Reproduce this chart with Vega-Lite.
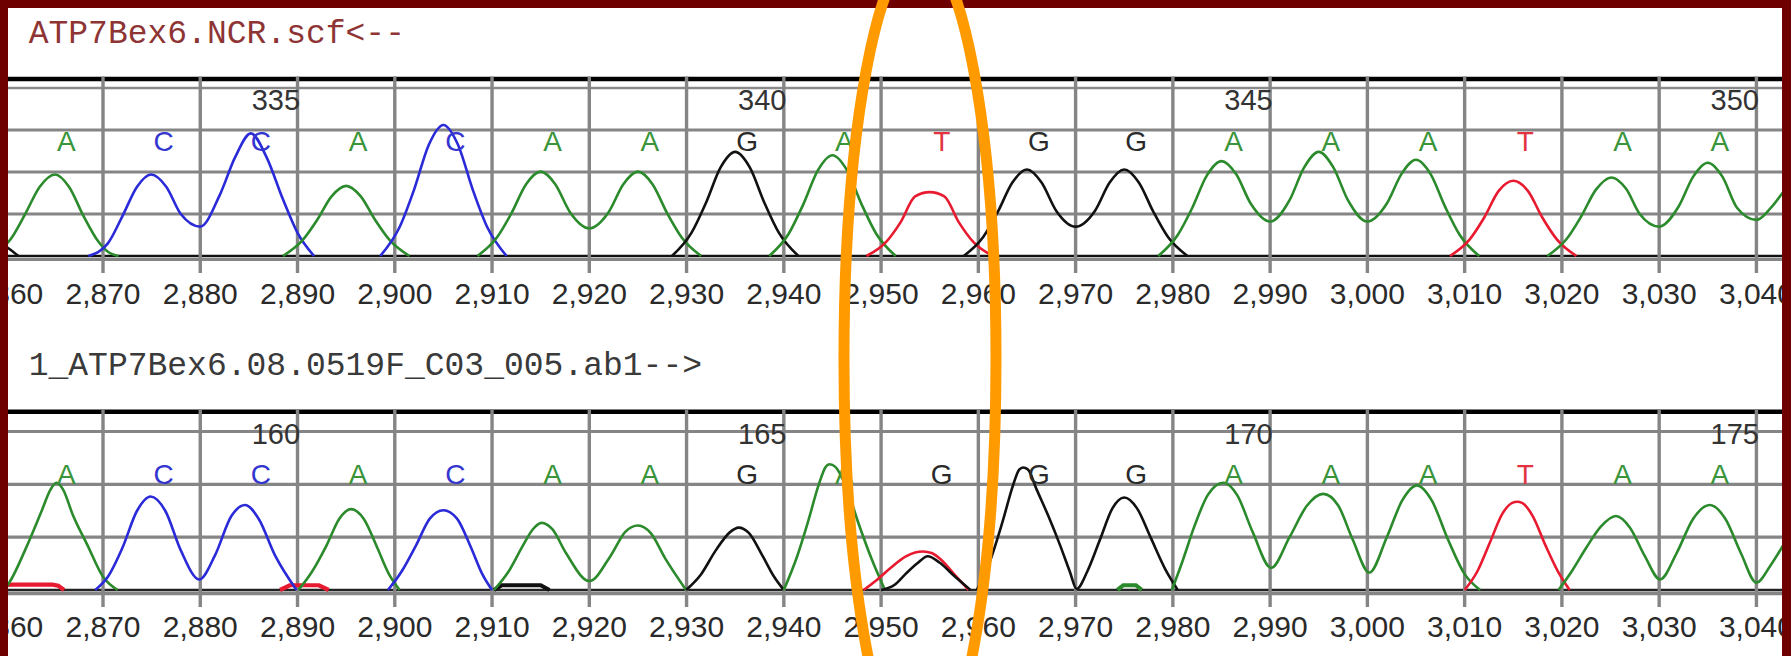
{
  "$schema": "https://vega.github.io/schema/vega-lite/v6.json",
  "width": 1774,
  "height": 648,
  "padding": {"left": 8, "top": 8, "right": 9, "bottom": 0},
  "autosize": {"type": "none"},
  "background": "#6f0000",
  "config": {"view": {"fill": "white", "stroke": null}},
  "datasets": {
    "grid": [{"v": 100}, {"v": 200}, {"v": 300}],
    "ticks": [{"x": 2860}, {"x": 2870}, {"x": 2880}, {"x": 2890}, {"x": 2900}, {"x": 2910}, {"x": 2920}, {"x": 2930}, {"x": 2940}, {"x": 2950}, {"x": 2960}, {"x": 2970}, {"x": 2980}, {"x": 2990}, {"x": 3000}, {"x": 3010}, {"x": 3020}, {"x": 3030}, {"x": 3040}],
    "b1": [{"x": 2865, "b": "A"}, {"x": 2875, "b": "C"}, {"x": 2885, "b": "C"}, {"x": 2895, "b": "A"}, {"x": 2905, "b": "C"}, {"x": 2915, "b": "A"}, {"x": 2925, "b": "A"}, {"x": 2935, "b": "G"}, {"x": 2945, "b": "A"}, {"x": 2955, "b": "T"}, {"x": 2965, "b": "G"}, {"x": 2975, "b": "G"}, {"x": 2985, "b": "A"}, {"x": 2995, "b": "A"}, {"x": 3005, "b": "A"}, {"x": 3015, "b": "T"}, {"x": 3025, "b": "A"}, {"x": 3035, "b": "A"}],
    "b2": [{"x": 2865, "b": "A"}, {"x": 2875, "b": "C"}, {"x": 2885, "b": "C"}, {"x": 2895, "b": "A"}, {"x": 2905, "b": "C"}, {"x": 2915, "b": "A"}, {"x": 2925, "b": "A"}, {"x": 2935, "b": "G"}, {"x": 2945, "b": "A"}, {"x": 2955, "b": "G"}, {"x": 2965, "b": "G"}, {"x": 2975, "b": "G"}, {"x": 2985, "b": "A"}, {"x": 2995, "b": "A"}, {"x": 3005, "b": "A"}, {"x": 3015, "b": "T"}, {"x": 3025, "b": "A"}, {"x": 3035, "b": "A"}],
    "n1": [{"x": 2885, "n": "335"}, {"x": 2935, "n": "340"}, {"x": 2985, "n": "345"}, {"x": 3035, "n": "350"}],
    "n2": [{"x": 2885, "n": "160"}, {"x": 2935, "n": "165"}, {"x": 2985, "n": "170"}, {"x": 3035, "n": "175"}],
    "tr1": [
      {"s": 1, "c": "G", "x": 2858.5, "v": 45}, {"s": 1, "c": "G", "x": 2859.5, "v": 30}, {"s": 1, "c": "G", "x": 2860.3, "v": 18}, {"s": 1, "c": "G", "x": 2861.3, "v": 0},
      {"s": 2, "c": "A", "x": 2859, "v": 8}, {"s": 2, "c": "A", "x": 2860.5, "v": 40}, {"s": 2, "c": "A", "x": 2862, "v": 100}, {"s": 2, "c": "A", "x": 2863.5, "v": 165}, {"s": 2, "c": "A", "x": 2865.07, "v": 194}, {"s": 2, "c": "A", "x": 2866.5, "v": 165}, {"s": 2, "c": "A", "x": 2868, "v": 95}, {"s": 2, "c": "A", "x": 2869.5, "v": 35}, {"s": 2, "c": "A", "x": 2870.5, "v": 10}, {"s": 2, "c": "A", "x": 2871.6, "v": 0},
      {"s": 3, "c": "C", "x": 2868.5, "v": 0}, {"s": 3, "c": "C", "x": 2870.5, "v": 30}, {"s": 3, "c": "C", "x": 2872, "v": 95}, {"s": 3, "c": "C", "x": 2873.5, "v": 165}, {"s": 3, "c": "C", "x": 2874.95, "v": 194}, {"s": 3, "c": "C", "x": 2876.5, "v": 165}, {"s": 3, "c": "C", "x": 2878, "v": 100}, {"s": 3, "c": "C", "x": 2880, "v": 70}, {"s": 3, "c": "C", "x": 2882, "v": 145}, {"s": 3, "c": "C", "x": 2883.6, "v": 236}, {"s": 3, "c": "C", "x": 2885.2, "v": 292}, {"s": 3, "c": "C", "x": 2886.8, "v": 236}, {"s": 3, "c": "C", "x": 2888.5, "v": 135}, {"s": 3, "c": "C", "x": 2890, "v": 55}, {"s": 3, "c": "C", "x": 2891.7, "v": 0},
      {"s": 4, "c": "A", "x": 2888.5, "v": 0}, {"s": 4, "c": "A", "x": 2890.5, "v": 37}, {"s": 4, "c": "A", "x": 2892, "v": 85}, {"s": 4, "c": "A", "x": 2893.5, "v": 142}, {"s": 4, "c": "A", "x": 2895, "v": 167}, {"s": 4, "c": "A", "x": 2896.5, "v": 142}, {"s": 4, "c": "A", "x": 2898, "v": 85}, {"s": 4, "c": "A", "x": 2899.5, "v": 37}, {"s": 4, "c": "A", "x": 2901.5, "v": 0},
      {"s": 5, "c": "C", "x": 2898.5, "v": 0}, {"s": 5, "c": "C", "x": 2900.5, "v": 69}, {"s": 5, "c": "C", "x": 2902, "v": 159}, {"s": 5, "c": "C", "x": 2903.5, "v": 265}, {"s": 5, "c": "C", "x": 2905, "v": 312}, {"s": 5, "c": "C", "x": 2906.5, "v": 265}, {"s": 5, "c": "C", "x": 2908, "v": 159}, {"s": 5, "c": "C", "x": 2909.5, "v": 69}, {"s": 5, "c": "C", "x": 2911.5, "v": 0},
      {"s": 6, "c": "A", "x": 2908.5, "v": 0}, {"s": 6, "c": "A", "x": 2910.5, "v": 44}, {"s": 6, "c": "A", "x": 2912, "v": 102}, {"s": 6, "c": "A", "x": 2913.5, "v": 171}, {"s": 6, "c": "A", "x": 2915, "v": 201}, {"s": 6, "c": "A", "x": 2916.5, "v": 171}, {"s": 6, "c": "A", "x": 2918, "v": 105}, {"s": 6, "c": "A", "x": 2920, "v": 66}, {"s": 6, "c": "A", "x": 2922, "v": 105}, {"s": 6, "c": "A", "x": 2923.5, "v": 171}, {"s": 6, "c": "A", "x": 2925, "v": 201}, {"s": 6, "c": "A", "x": 2926.5, "v": 171}, {"s": 6, "c": "A", "x": 2928, "v": 102}, {"s": 6, "c": "A", "x": 2929.5, "v": 44}, {"s": 6, "c": "A", "x": 2931.5, "v": 0},
      {"s": 7, "c": "G", "x": 2928.5, "v": 0}, {"s": 7, "c": "G", "x": 2930.5, "v": 55}, {"s": 7, "c": "G", "x": 2932, "v": 127}, {"s": 7, "c": "G", "x": 2933.5, "v": 211}, {"s": 7, "c": "G", "x": 2935, "v": 248}, {"s": 7, "c": "G", "x": 2936.5, "v": 211}, {"s": 7, "c": "G", "x": 2938, "v": 127}, {"s": 7, "c": "G", "x": 2939.5, "v": 55}, {"s": 7, "c": "G", "x": 2941.5, "v": 0},
      {"s": 8, "c": "A", "x": 2938.5, "v": 0}, {"s": 8, "c": "A", "x": 2940.5, "v": 53}, {"s": 8, "c": "A", "x": 2942, "v": 123}, {"s": 8, "c": "A", "x": 2943.5, "v": 204}, {"s": 8, "c": "A", "x": 2945, "v": 240}, {"s": 8, "c": "A", "x": 2946.5, "v": 204}, {"s": 8, "c": "A", "x": 2948, "v": 123}, {"s": 8, "c": "A", "x": 2949.5, "v": 53}, {"s": 8, "c": "A", "x": 2951.5, "v": 0},
      {"s": 9, "c": "T", "x": 2948.5, "v": 0}, {"s": 9, "c": "T", "x": 2950.5, "v": 33}, {"s": 9, "c": "T", "x": 2952, "v": 80}, {"s": 9, "c": "T", "x": 2953.5, "v": 142}, {"s": 9, "c": "T", "x": 2955, "v": 152}, {"s": 9, "c": "T", "x": 2956.5, "v": 142}, {"s": 9, "c": "T", "x": 2958, "v": 80}, {"s": 9, "c": "T", "x": 2959.5, "v": 33}, {"s": 9, "c": "T", "x": 2961.5, "v": 0},
      {"s": 10, "c": "G", "x": 2958.5, "v": 0}, {"s": 10, "c": "G", "x": 2960.5, "v": 45}, {"s": 10, "c": "G", "x": 2962, "v": 105}, {"s": 10, "c": "G", "x": 2963.5, "v": 175}, {"s": 10, "c": "G", "x": 2965, "v": 206}, {"s": 10, "c": "G", "x": 2966.5, "v": 175}, {"s": 10, "c": "G", "x": 2968, "v": 108}, {"s": 10, "c": "G", "x": 2970, "v": 70}, {"s": 10, "c": "G", "x": 2972, "v": 108}, {"s": 10, "c": "G", "x": 2973.5, "v": 175}, {"s": 10, "c": "G", "x": 2975, "v": 206}, {"s": 10, "c": "G", "x": 2976.5, "v": 175}, {"s": 10, "c": "G", "x": 2978, "v": 105}, {"s": 10, "c": "G", "x": 2979.5, "v": 45}, {"s": 10, "c": "G", "x": 2981.5, "v": 0},
      {"s": 11, "c": "A", "x": 2978.5, "v": 0}, {"s": 11, "c": "A", "x": 2980.5, "v": 50}, {"s": 11, "c": "A", "x": 2982, "v": 115}, {"s": 11, "c": "A", "x": 2983.5, "v": 192}, {"s": 11, "c": "A", "x": 2985, "v": 226}, {"s": 11, "c": "A", "x": 2986.5, "v": 195}, {"s": 11, "c": "A", "x": 2988, "v": 125}, {"s": 11, "c": "A", "x": 2990, "v": 82}, {"s": 11, "c": "A", "x": 2992, "v": 133}, {"s": 11, "c": "A", "x": 2993.5, "v": 211}, {"s": 11, "c": "A", "x": 2995, "v": 248}, {"s": 11, "c": "A", "x": 2996.5, "v": 211}, {"s": 11, "c": "A", "x": 2998, "v": 133}, {"s": 11, "c": "A", "x": 3000, "v": 82}, {"s": 11, "c": "A", "x": 3002, "v": 125}, {"s": 11, "c": "A", "x": 3003.5, "v": 195}, {"s": 11, "c": "A", "x": 3005, "v": 229}, {"s": 11, "c": "A", "x": 3006.5, "v": 195}, {"s": 11, "c": "A", "x": 3008, "v": 117}, {"s": 11, "c": "A", "x": 3009.5, "v": 50}, {"s": 11, "c": "A", "x": 3011.5, "v": 0},
      {"s": 12, "c": "T", "x": 3008.5, "v": 0}, {"s": 12, "c": "T", "x": 3010.5, "v": 39}, {"s": 12, "c": "T", "x": 3012, "v": 91}, {"s": 12, "c": "T", "x": 3013.5, "v": 155}, {"s": 12, "c": "T", "x": 3015, "v": 179}, {"s": 12, "c": "T", "x": 3016.5, "v": 155}, {"s": 12, "c": "T", "x": 3018, "v": 91}, {"s": 12, "c": "T", "x": 3019.5, "v": 39}, {"s": 12, "c": "T", "x": 3021.5, "v": 0},
      {"s": 13, "c": "A", "x": 3018.5, "v": 0}, {"s": 13, "c": "A", "x": 3020.5, "v": 41}, {"s": 13, "c": "A", "x": 3022, "v": 95}, {"s": 13, "c": "A", "x": 3023.5, "v": 158}, {"s": 13, "c": "A", "x": 3025.1, "v": 187}, {"s": 13, "c": "A", "x": 3026.6, "v": 160}, {"s": 13, "c": "A", "x": 3028, "v": 100}, {"s": 13, "c": "A", "x": 3030, "v": 70}, {"s": 13, "c": "A", "x": 3032, "v": 118}, {"s": 13, "c": "A", "x": 3033.5, "v": 189}, {"s": 13, "c": "A", "x": 3035, "v": 222}, {"s": 13, "c": "A", "x": 3036.5, "v": 189}, {"s": 13, "c": "A", "x": 3038, "v": 115}, {"s": 13, "c": "A", "x": 3040, "v": 86}, {"s": 13, "c": "A", "x": 3041.5, "v": 115}, {"s": 13, "c": "A", "x": 3043, "v": 160}, {"s": 13, "c": "A", "x": 3044, "v": 190}
    ],
    "tr2n": [
      {"s": 1, "c": "T", "x": 2859, "v": 9}, {"s": 1, "c": "T", "x": 2860.5, "v": 10}, {"s": 1, "c": "T", "x": 2862.5, "v": 10}, {"s": 1, "c": "T", "x": 2864.8, "v": 10}, {"s": 1, "c": "T", "x": 2865.4, "v": 8}, {"s": 1, "c": "T", "x": 2866, "v": 0},
      {"s": 4, "c": "T", "x": 2888.2, "v": 0}, {"s": 4, "c": "T", "x": 2889.2, "v": 9}, {"s": 4, "c": "T", "x": 2892.2, "v": 9}, {"s": 4, "c": "T", "x": 2893.2, "v": 0},
      {"s": 7, "c": "G", "x": 2910.2, "v": 0}, {"s": 7, "c": "G", "x": 2911, "v": 9}, {"s": 7, "c": "G", "x": 2915, "v": 9}, {"s": 7, "c": "G", "x": 2915.9, "v": 0},
      {"s": 14, "c": "A", "x": 2974.3, "v": 0}, {"s": 14, "c": "A", "x": 2974.9, "v": 9}, {"s": 14, "c": "A", "x": 2976.2, "v": 9}, {"s": 14, "c": "A", "x": 2976.8, "v": 0}
    ],
    "tr2": [
      {"s": 2, "c": "A", "x": 2859.8, "v": 0}, {"s": 2, "c": "A", "x": 2860.4, "v": 15}, {"s": 2, "c": "A", "x": 2862, "v": 76}, {"s": 2, "c": "A", "x": 2863.7, "v": 150}, {"s": 2, "c": "A", "x": 2864.6, "v": 190}, {"s": 2, "c": "A", "x": 2865.2, "v": 203}, {"s": 2, "c": "A", "x": 2865.9, "v": 190}, {"s": 2, "c": "A", "x": 2866.9, "v": 142}, {"s": 2, "c": "A", "x": 2868.4, "v": 85}, {"s": 2, "c": "A", "x": 2870, "v": 25}, {"s": 2, "c": "A", "x": 2871.5, "v": 0},
      {"s": 3, "c": "C", "x": 2869.2, "v": 0}, {"s": 3, "c": "C", "x": 2870.5, "v": 25}, {"s": 3, "c": "C", "x": 2872, "v": 80}, {"s": 3, "c": "C", "x": 2873.5, "v": 150}, {"s": 3, "c": "C", "x": 2874.9, "v": 177}, {"s": 3, "c": "C", "x": 2876.4, "v": 150}, {"s": 3, "c": "C", "x": 2878, "v": 75}, {"s": 3, "c": "C", "x": 2879.9, "v": 20}, {"s": 3, "c": "C", "x": 2881.5, "v": 65}, {"s": 3, "c": "C", "x": 2883.2, "v": 140}, {"s": 3, "c": "C", "x": 2884.6, "v": 161}, {"s": 3, "c": "C", "x": 2886, "v": 135}, {"s": 3, "c": "C", "x": 2887.7, "v": 65}, {"s": 3, "c": "C", "x": 2889.9, "v": 0},
      {"s": 5, "c": "A", "x": 2890.1, "v": 0}, {"s": 5, "c": "A", "x": 2891.5, "v": 35}, {"s": 5, "c": "A", "x": 2893, "v": 85}, {"s": 5, "c": "A", "x": 2894.3, "v": 135}, {"s": 5, "c": "A", "x": 2895.5, "v": 153}, {"s": 5, "c": "A", "x": 2896.8, "v": 135}, {"s": 5, "c": "A", "x": 2898.2, "v": 80}, {"s": 5, "c": "A", "x": 2899.4, "v": 30}, {"s": 5, "c": "A", "x": 2900.5, "v": 0},
      {"s": 6, "c": "C", "x": 2899.3, "v": 0}, {"s": 6, "c": "C", "x": 2900.7, "v": 35}, {"s": 6, "c": "C", "x": 2902.2, "v": 85}, {"s": 6, "c": "C", "x": 2903.6, "v": 135}, {"s": 6, "c": "C", "x": 2905, "v": 151}, {"s": 6, "c": "C", "x": 2906.4, "v": 135}, {"s": 6, "c": "C", "x": 2907.8, "v": 82}, {"s": 6, "c": "C", "x": 2909, "v": 30}, {"s": 6, "c": "C", "x": 2910, "v": 0},
      {"s": 8, "c": "A", "x": 2910.2, "v": 0}, {"s": 8, "c": "A", "x": 2911.7, "v": 35}, {"s": 8, "c": "A", "x": 2913.2, "v": 85}, {"s": 8, "c": "A", "x": 2914.2, "v": 115}, {"s": 8, "c": "A", "x": 2915.1, "v": 127}, {"s": 8, "c": "A", "x": 2916.2, "v": 115}, {"s": 8, "c": "A", "x": 2917.6, "v": 70}, {"s": 8, "c": "A", "x": 2920, "v": 17}, {"s": 8, "c": "A", "x": 2922.2, "v": 65}, {"s": 8, "c": "A", "x": 2923.7, "v": 110}, {"s": 8, "c": "A", "x": 2925, "v": 122}, {"s": 8, "c": "A", "x": 2926.3, "v": 108}, {"s": 8, "c": "A", "x": 2927.8, "v": 60}, {"s": 8, "c": "A", "x": 2929.95, "v": 0},
      {"s": 9, "c": "G", "x": 2929.95, "v": 0}, {"s": 9, "c": "G", "x": 2931.5, "v": 30}, {"s": 9, "c": "G", "x": 2933, "v": 75}, {"s": 9, "c": "G", "x": 2934.5, "v": 110}, {"s": 9, "c": "G", "x": 2935.35, "v": 118}, {"s": 9, "c": "G", "x": 2936.4, "v": 108}, {"s": 9, "c": "G", "x": 2937.8, "v": 65}, {"s": 9, "c": "G", "x": 2939, "v": 25}, {"s": 9, "c": "G", "x": 2940, "v": 0},
      {"s": 10, "c": "A", "x": 2940, "v": 0}, {"s": 10, "c": "A", "x": 2941.3, "v": 60}, {"s": 10, "c": "A", "x": 2942.5, "v": 130}, {"s": 10, "c": "A", "x": 2943.6, "v": 200}, {"s": 10, "c": "A", "x": 2944.3, "v": 233}, {"s": 10, "c": "A", "x": 2944.7, "v": 238}, {"s": 10, "c": "A", "x": 2945.3, "v": 233}, {"s": 10, "c": "A", "x": 2946.4, "v": 195}, {"s": 10, "c": "A", "x": 2947.7, "v": 125}, {"s": 10, "c": "A", "x": 2949, "v": 60}, {"s": 10, "c": "A", "x": 2950.4, "v": 0},
      {"s": 11, "c": "T", "x": 2948.2, "v": 0}, {"s": 11, "c": "T", "x": 2949.5, "v": 18}, {"s": 11, "c": "T", "x": 2951, "v": 42}, {"s": 11, "c": "T", "x": 2952.5, "v": 63}, {"s": 11, "c": "T", "x": 2953.5, "v": 71}, {"s": 11, "c": "T", "x": 2954.3, "v": 73}, {"s": 11, "c": "T", "x": 2955.2, "v": 70}, {"s": 11, "c": "T", "x": 2956.3, "v": 55}, {"s": 11, "c": "T", "x": 2957.6, "v": 28}, {"s": 11, "c": "T", "x": 2959, "v": 0},
      {"s": 12, "c": "G", "x": 2950, "v": 0}, {"s": 12, "c": "G", "x": 2951.4, "v": 10}, {"s": 12, "c": "G", "x": 2952.5, "v": 30}, {"s": 12, "c": "G", "x": 2953.7, "v": 50}, {"s": 12, "c": "G", "x": 2954.8, "v": 64}, {"s": 12, "c": "G", "x": 2956, "v": 52}, {"s": 12, "c": "G", "x": 2957.5, "v": 27}, {"s": 12, "c": "G", "x": 2959.2, "v": 0},
      {"s": 13, "c": "G", "x": 2959.85, "v": 0}, {"s": 13, "c": "G", "x": 2961.2, "v": 55}, {"s": 13, "c": "G", "x": 2962.5, "v": 130}, {"s": 13, "c": "G", "x": 2963.6, "v": 200}, {"s": 13, "c": "G", "x": 2964.2, "v": 228}, {"s": 13, "c": "G", "x": 2964.6, "v": 232}, {"s": 13, "c": "G", "x": 2965.1, "v": 228}, {"s": 13, "c": "G", "x": 2966, "v": 190}, {"s": 13, "c": "G", "x": 2967.2, "v": 140}, {"s": 13, "c": "G", "x": 2968.4, "v": 85}, {"s": 13, "c": "G", "x": 2969.4, "v": 35}, {"s": 13, "c": "G", "x": 2970.1, "v": 2}, {"s": 13, "c": "G", "x": 2971.2, "v": 35}, {"s": 13, "c": "G", "x": 2972.5, "v": 95}, {"s": 13, "c": "G", "x": 2973.8, "v": 155}, {"s": 13, "c": "G", "x": 2975, "v": 175}, {"s": 13, "c": "G", "x": 2976.3, "v": 155}, {"s": 13, "c": "G", "x": 2977.7, "v": 100}, {"s": 13, "c": "G", "x": 2979.2, "v": 40}, {"s": 13, "c": "G", "x": 2980.5, "v": 0},
      {"s": 15, "c": "A", "x": 2979.9, "v": 0}, {"s": 15, "c": "A", "x": 2981, "v": 55}, {"s": 15, "c": "A", "x": 2982.2, "v": 120}, {"s": 15, "c": "A", "x": 2983.6, "v": 180}, {"s": 15, "c": "A", "x": 2985.2, "v": 203}, {"s": 15, "c": "A", "x": 2986.6, "v": 180}, {"s": 15, "c": "A", "x": 2988.2, "v": 110}, {"s": 15, "c": "A", "x": 2990.1, "v": 42}, {"s": 15, "c": "A", "x": 2992, "v": 100}, {"s": 15, "c": "A", "x": 2993.8, "v": 160}, {"s": 15, "c": "A", "x": 2995.45, "v": 182}, {"s": 15, "c": "A", "x": 2997, "v": 160}, {"s": 15, "c": "A", "x": 2998.5, "v": 95}, {"s": 15, "c": "A", "x": 3000.2, "v": 33}, {"s": 15, "c": "A", "x": 3002, "v": 100}, {"s": 15, "c": "A", "x": 3003.6, "v": 170}, {"s": 15, "c": "A", "x": 3005.1, "v": 198}, {"s": 15, "c": "A", "x": 3006.6, "v": 170}, {"s": 15, "c": "A", "x": 3008.3, "v": 95}, {"s": 15, "c": "A", "x": 3010, "v": 30}, {"s": 15, "c": "A", "x": 3011.6, "v": 0},
      {"s": 16, "c": "T", "x": 3010, "v": 0}, {"s": 16, "c": "T", "x": 3011.3, "v": 35}, {"s": 16, "c": "T", "x": 3012.6, "v": 90}, {"s": 16, "c": "T", "x": 3013.9, "v": 145}, {"s": 16, "c": "T", "x": 3014.9, "v": 165}, {"s": 16, "c": "T", "x": 3015.4, "v": 167}, {"s": 16, "c": "T", "x": 3015.9, "v": 165}, {"s": 16, "c": "T", "x": 3017, "v": 140}, {"s": 16, "c": "T", "x": 3018.3, "v": 85}, {"s": 16, "c": "T", "x": 3019.6, "v": 35}, {"s": 16, "c": "T", "x": 3020.8, "v": 0},
      {"s": 17, "c": "A", "x": 3019.65, "v": 0}, {"s": 17, "c": "A", "x": 3021, "v": 35}, {"s": 17, "c": "A", "x": 3022.5, "v": 80}, {"s": 17, "c": "A", "x": 3024, "v": 120}, {"s": 17, "c": "A", "x": 3025.55, "v": 140}, {"s": 17, "c": "A", "x": 3027, "v": 118}, {"s": 17, "c": "A", "x": 3028.5, "v": 65}, {"s": 17, "c": "A", "x": 3030.1, "v": 20}, {"s": 17, "c": "A", "x": 3031.8, "v": 70}, {"s": 17, "c": "A", "x": 3033.5, "v": 135}, {"s": 17, "c": "A", "x": 3035.2, "v": 161}, {"s": 17, "c": "A", "x": 3036.8, "v": 135}, {"s": 17, "c": "A", "x": 3038.4, "v": 70}, {"s": 17, "c": "A", "x": 3040, "v": 14}, {"s": 17, "c": "A", "x": 3041.4, "v": 45}, {"s": 17, "c": "A", "x": 3042.7, "v": 83}, {"s": 17, "c": "A", "x": 3044, "v": 125}
    ]
  },
  "layer": [
    {
      "layer": [
        {"data": {"name": "grid"}, "mark": {"type": "rule", "stroke": "#858585", "strokeWidth": 3.2},
         "encoding": {"y": {"field": "v", "type": "quantitative", "scale": {"domain": [-952.381, 590.476], "nice": false, "zero": false}, "axis": null}}},
        {"data": {"values": [{}]}, "mark": {"type": "rule", "stroke": "#8a8a8a", "strokeWidth": 2.4},
         "encoding": {"y": {"datum": 400, "type": "quantitative", "scale": {"domain": [-952.381, 590.476], "nice": false, "zero": false}, "axis": null}}},
        {"data": {"values": [{}]}, "mark": {"type": "rule", "stroke": "#858585", "strokeWidth": 3.2},
         "encoding": {"y": {"datum": -8.3, "type": "quantitative", "scale": {"domain": [-952.381, 590.476], "nice": false, "zero": false}, "axis": null}}},
        {"data": {"values": [{}]}, "mark": {"type": "rule", "stroke": "#111111", "strokeWidth": 2.6},
         "encoding": {"y": {"datum": 0, "type": "quantitative", "scale": {"domain": [-952.381, 590.476], "nice": false, "zero": false}, "axis": null}}},
        {"data": {"values": [{}]}, "mark": {"type": "rule", "stroke": "#000000", "strokeWidth": 4.6},
         "encoding": {"y": {"datum": 421.4, "type": "quantitative", "scale": {"domain": [-952.381, 590.476], "nice": false, "zero": false}, "axis": null}}},
        {"data": {"name": "ticks"}, "mark": {"type": "rule", "stroke": "#858585", "strokeWidth": 3.4, "clip": true},
         "encoding": {
           "x": {"field": "x", "type": "quantitative", "scale": {"domain": [2860.232, 3042.63], "nice": false, "zero": false}, "axis": null},
           "y": {"datum": 427.4, "type": "quantitative", "scale": {"domain": [-952.381, 590.476], "nice": false, "zero": false}, "axis": null},
           "y2": {"datum": -40.5}}},
        {"data": {"name": "tr1"}, "mark": {"type": "line", "interpolate": "monotone", "strokeWidth": 2.6, "clip": true},
         "encoding": {
           "x": {"field": "x", "type": "quantitative", "scale": {"domain": [2860.232, 3042.63], "nice": false, "zero": false}, "axis": null},
           "y": {"field": "v", "type": "quantitative", "scale": {"domain": [-952.381, 590.476], "nice": false, "zero": false}, "axis": null},
           "stroke": {"field": "c", "type": "nominal", "scale": {"domain": ["A", "C", "G", "T"], "range": ["#2b8a2b", "#2a2ad8", "#111111", "#e81a30"]}, "legend": null},
           "detail": {"field": "s", "type": "nominal"}}},
        {"data": {"name": "b1"}, "mark": {"type": "text", "font": "Liberation Sans", "fontSize": 28, "align": "center", "baseline": "alphabetic", "dx": 12},
         "encoding": {
           "x": {"field": "x", "type": "quantitative", "scale": {"domain": [2860.232, 3042.63], "nice": false, "zero": false}, "axis": null},
           "y": {"datum": 250, "type": "quantitative", "scale": {"domain": [-952.381, 590.476], "nice": false, "zero": false}, "axis": null},
           "text": {"field": "b", "type": "nominal"},
           "fill": {"field": "b", "type": "nominal", "scale": {"domain": ["A", "C", "G", "T"], "range": ["#3a943a", "#3535d0", "#2a2a2a", "#e33340"]}, "legend": null}}},
        {"data": {"name": "n1"}, "mark": {"type": "text", "font": "Liberation Sans", "fontSize": 29, "align": "center", "baseline": "alphabetic", "dx": 27, "fill": "#333333"},
         "encoding": {
           "x": {"field": "x", "type": "quantitative", "scale": {"domain": [2860.232, 3042.63], "nice": false, "zero": false}, "axis": null},
           "y": {"datum": 348, "type": "quantitative", "scale": {"domain": [-952.381, 590.476], "nice": false, "zero": false}, "axis": null},
           "text": {"field": "n", "type": "nominal"}}},
        {"data": {"name": "ticks"}, "mark": {"type": "text", "font": "Liberation Sans", "fontSize": 30, "align": "center", "baseline": "alphabetic", "fill": "#2a2a2a", "clip": true},
         "encoding": {
           "x": {"field": "x", "type": "quantitative", "scale": {"domain": [2860.232, 3042.63], "nice": false, "zero": false}, "axis": null},
           "y": {"datum": -114, "type": "quantitative", "scale": {"domain": [-952.381, 590.476], "nice": false, "zero": false}, "axis": null},
           "text": {"field": "x", "type": "quantitative", "format": ","}}},
        {"data": {"values": [{"t": "ATP7Bex6.NCR.scf<--"}]}, "mark": {"type": "text", "font": "Liberation Mono", "fontSize": 33, "align": "left", "baseline": "alphabetic", "fill": "#8e3434"},
         "encoding": {
           "x": {"datum": 2862.36, "type": "quantitative", "scale": {"domain": [2860.232, 3042.63], "nice": false, "zero": false}, "axis": null},
           "y": {"datum": 508, "type": "quantitative", "scale": {"domain": [-952.381, 590.476], "nice": false, "zero": false}, "axis": null},
           "text": {"field": "t", "type": "nominal"}}}
      ]
    },
    {
      "layer": [
        {"data": {"name": "grid"}, "mark": {"type": "rule", "stroke": "#858585", "strokeWidth": 3.2},
         "encoding": {"y": {"field": "v", "type": "quantitative", "scale": {"domain": [-124.93, 1101.65], "nice": false, "zero": false}, "axis": null}}},
        {"data": {"values": [{}]}, "mark": {"type": "rule", "stroke": "#858585", "strokeWidth": 3.4},
         "encoding": {"y": {"datum": -6.6, "type": "quantitative", "scale": {"domain": [-124.93, 1101.65], "nice": false, "zero": false}, "axis": null}}},
        {"data": {"values": [{}]}, "mark": {"type": "rule", "stroke": "#222222", "strokeWidth": 2.6},
         "encoding": {"y": {"datum": 0, "type": "quantitative", "scale": {"domain": [-124.93, 1101.65], "nice": false, "zero": false}, "axis": null}}},
        {"data": {"values": [{}]}, "mark": {"type": "rule", "stroke": "#000000", "strokeWidth": 4.4},
         "encoding": {"y": {"datum": 337.5, "type": "quantitative", "scale": {"domain": [-124.93, 1101.65], "nice": false, "zero": false}, "axis": null}}},
        {"data": {"name": "ticks"}, "mark": {"type": "rule", "stroke": "#858585", "strokeWidth": 3.4, "clip": true},
         "encoding": {
           "x": {"field": "x", "type": "quantitative", "scale": {"domain": [2860.232, 3042.63], "nice": false, "zero": false}, "axis": null},
           "y": {"datum": 340.7, "type": "quantitative", "scale": {"domain": [-124.93, 1101.65], "nice": false, "zero": false}, "axis": null},
           "y2": {"datum": -32.2}}},
        {"data": {"name": "tr2n"}, "mark": {"type": "line", "interpolate": "linear", "strokeWidth": 4.2, "clip": true},
         "encoding": {
           "x": {"field": "x", "type": "quantitative", "scale": {"domain": [2860.232, 3042.63], "nice": false, "zero": false}, "axis": null},
           "y": {"field": "v", "type": "quantitative", "scale": {"domain": [-124.93, 1101.65], "nice": false, "zero": false}, "axis": null},
           "stroke": {"field": "c", "type": "nominal", "scale": {"domain": ["A", "C", "G", "T"], "range": ["#2b8a2b", "#2a2ad8", "#111111", "#e81a30"]}, "legend": null},
           "detail": {"field": "s", "type": "nominal"}}},
        {"data": {"name": "tr2"}, "mark": {"type": "line", "interpolate": "monotone", "strokeWidth": 2.6, "clip": true},
         "encoding": {
           "x": {"field": "x", "type": "quantitative", "scale": {"domain": [2860.232, 3042.63], "nice": false, "zero": false}, "axis": null},
           "y": {"field": "v", "type": "quantitative", "scale": {"domain": [-124.93, 1101.65], "nice": false, "zero": false}, "axis": null},
           "stroke": {"field": "c", "type": "nominal", "scale": {"domain": ["A", "C", "G", "T"], "range": ["#2b8a2b", "#2a2ad8", "#111111", "#e81a30"]}, "legend": null},
           "detail": {"field": "s", "type": "nominal"}}},
        {"data": {"name": "b2"}, "mark": {"type": "text", "font": "Liberation Sans", "fontSize": 28, "align": "center", "baseline": "alphabetic", "dx": 12},
         "encoding": {
           "x": {"field": "x", "type": "quantitative", "scale": {"domain": [2860.232, 3042.63], "nice": false, "zero": false}, "axis": null},
           "y": {"datum": 200, "type": "quantitative", "scale": {"domain": [-124.93, 1101.65], "nice": false, "zero": false}, "axis": null},
           "text": {"field": "b", "type": "nominal"},
           "fill": {"field": "b", "type": "nominal", "scale": {"domain": ["A", "C", "G", "T"], "range": ["#3a943a", "#3535d0", "#2a2a2a", "#e33340"]}, "legend": null}}},
        {"data": {"name": "n2"}, "mark": {"type": "text", "font": "Liberation Sans", "fontSize": 29, "align": "center", "baseline": "alphabetic", "dx": 27, "fill": "#333333"},
         "encoding": {
           "x": {"field": "x", "type": "quantitative", "scale": {"domain": [2860.232, 3042.63], "nice": false, "zero": false}, "axis": null},
           "y": {"datum": 276, "type": "quantitative", "scale": {"domain": [-124.93, 1101.65], "nice": false, "zero": false}, "axis": null},
           "text": {"field": "n", "type": "nominal"}}},
        {"data": {"name": "ticks"}, "mark": {"type": "text", "font": "Liberation Sans", "fontSize": 30, "align": "center", "baseline": "alphabetic", "fill": "#2a2a2a", "clip": true},
         "encoding": {
           "x": {"field": "x", "type": "quantitative", "scale": {"domain": [2860.232, 3042.63], "nice": false, "zero": false}, "axis": null},
           "y": {"datum": -89, "type": "quantitative", "scale": {"domain": [-124.93, 1101.65], "nice": false, "zero": false}, "axis": null},
           "text": {"field": "x", "type": "quantitative", "format": ","}}},
        {"data": {"values": [{"t": "1_ATP7Bex6.08.0519F_C03_005.ab1-->"}]}, "mark": {"type": "text", "font": "Liberation Mono", "fontSize": 33, "align": "left", "baseline": "alphabetic", "fill": "#3a3a3a"},
         "encoding": {
           "x": {"datum": 2862.36, "type": "quantitative", "scale": {"domain": [2860.232, 3042.63], "nice": false, "zero": false}, "axis": null},
           "y": {"datum": 406.4, "type": "quantitative", "scale": {"domain": [-124.93, 1101.65], "nice": false, "zero": false}, "axis": null},
           "text": {"field": "t", "type": "nominal"}}}
      ]
    },
    {
      "data": {"values": [{"note": "highlight"}]},
      "mark": {"type": "point", "shape": "M 0.1863 0 C 0.1863 0.5523 0.1029 1 0 1 C -0.1029 1 -0.1863 0.5523 -0.1863 0 C -0.1863 -0.5523 -0.1029 -1 0 -1 C 0.1029 -1 0.1863 -0.5523 0.1863 0 Z", "size": 665856, "filled": false, "stroke": "#ff9a00", "color": "#ff9a00", "strokeWidth": 11, "opacity": 1},
      "encoding": {
        "x": {"datum": 2954.0, "type": "quantitative", "scale": {"domain": [2860.232, 3042.63], "nice": false, "zero": false}, "axis": null},
        "y": {"datum": -245.2, "type": "quantitative", "scale": {"domain": [-952.381, 590.476], "nice": false, "zero": false}, "axis": null}
      }
    }
  ],
  "resolve": {"scale": {"y": "independent"}}
}
